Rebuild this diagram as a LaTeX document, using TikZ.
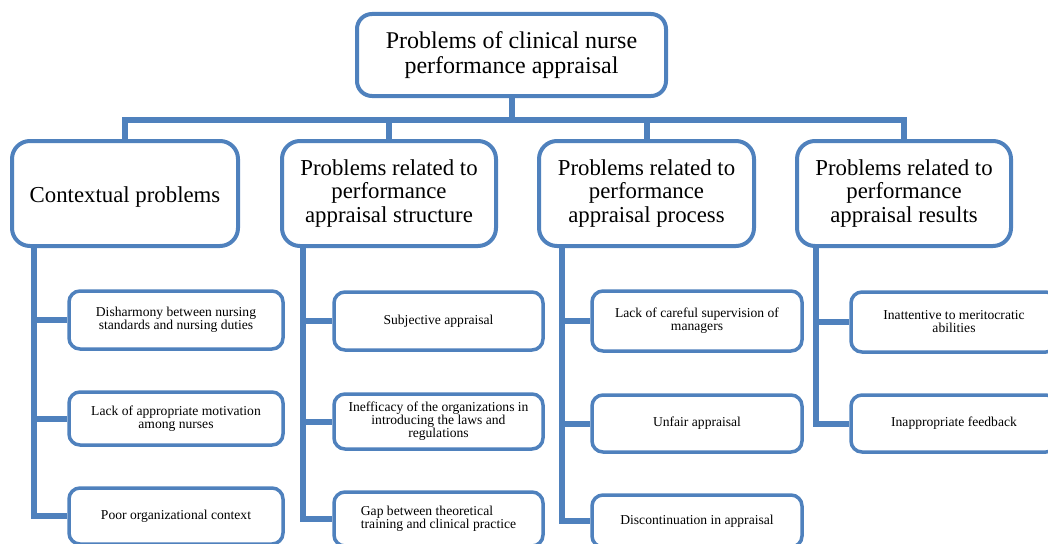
\documentclass[tikz,border=0pt]{standalone}
\usepackage{fontspec}
\setmainfont{Liberation Serif}
\usetikzlibrary{calc}
\definecolor{boxblue}{RGB}{79,129,189}
\begin{document}
\begin{tikzpicture}[x=1pt,y=-1pt,
  rootbox/.style={draw=boxblue,line width=4pt,fill=white,rounded corners=15pt,inner sep=0pt,
    align=center,font=\fontsize{24}{25}\selectfont,minimum width=309pt,minimum height=82pt},
  catbox/.style={draw=boxblue,line width=4pt,fill=white,rounded corners=18pt,inner sep=0pt,
    align=center,font=\fontsize{22.8}{23.5}\selectfont,minimum height=105pt},
  itembox/.style={draw=boxblue,line width=3.5pt,fill=white,rounded corners=11pt,inner sep=0pt,
    align=center,font=\fontsize{13.6}{13}\selectfont},
  conn/.style={draw=boxblue,line width=6pt}]
\useasboundingbox (0,0) rectangle (1048,543);
\clip (0,0) rectangle (1048,543);

% root
\node[rootbox] (root) at (511.5,55) {Problems of clinical nurse\\performance appraisal};

% categories
\node[catbox,minimum width=226pt,text height=23.6pt] (c1) at (125,193.5) {Contextual problems};
\node[catbox,minimum width=214pt] (c2) at (389,193.5) {Problems related to\\performance\\appraisal structure};
\node[catbox,minimum width=215pt] (c3) at (646.5,193.5) {Problems related to\\performance\\appraisal process};
\node[catbox,minimum width=214pt] (c4) at (904,193.5) {Problems related to\\performance\\appraisal results};

% items column 1
\node[itembox,minimum width=214pt,minimum height=58pt] (a1) at (176,320) {Disharmony between nursing\\standards and nursing duties};
\node[itembox,minimum width=214pt,minimum height=53pt] (a2) at (176,418.5) {Lack of appropriate motivation\\among nurses};
\node[itembox,minimum width=214pt,minimum height=56pt] (a3) at (176,516) {Poor organizational context};

% items column 2
\node[itembox,minimum width=209pt,minimum height=58pt] (b1) at (438.5,321) {Subjective appraisal};
\node[itembox,minimum width=209pt,minimum height=55pt] (b2) at (438.5,421.5) {Inefficacy of the organizations in\\introducing the laws and\\regulations};
\node[itembox,minimum width=209pt,minimum height=54pt,align=left] (b3) at (438.5,519) {Gap between theoretical\\training and clinical practice};

% items column 3
\node[itembox,minimum width=210pt,minimum height=60pt] (d1) at (697,321) {Lack of careful supervision of\\managers};
\node[itembox,minimum width=210pt,minimum height=57pt] (d2) at (697,423.5) {Unfair appraisal};
\node[itembox,minimum width=210pt,minimum height=52pt] (d3) at (697,521) {Discontinuation in appraisal};

% items column 4
\node[itembox,minimum width=206pt,minimum height=60pt] (e1) at (954,322) {Inattentive to meritocratic\\abilities};
\node[itembox,minimum width=206pt,minimum height=57pt] (e2) at (954,423.5) {Inappropriate feedback};

% top connectors
\coordinate (bar) at (0,120);
\draw[conn] (root.south) -- (root.south |- bar);
\draw[conn] (c1.north) -- (c1.north |- bar) -- (c4.north |- bar) -- (c4.north);
\draw[conn] (c2.north) -- (c2.north |- bar);
\draw[conn] (c3.north) -- (c3.north |- bar);

% spines
\coordinate (s1) at ($(c1.south west)+(24,0)$);
\coordinate (s2) at ($(c2.south west)+(23,0)$);
\coordinate (s3) at ($(c3.south west)+(25,0)$);
\coordinate (s4) at ($(c4.south west)+(21,0)$);

\draw[conn] (s1) |- (a3.west);
\draw[conn] (s1 |- a1.west) -- (a1.west);
\draw[conn] (s1 |- a2.west) -- (a2.west);

\draw[conn] (s2) |- (b3.west);
\draw[conn] (s2 |- b1.west) -- (b1.west);
\draw[conn] (s2 |- b2.west) -- (b2.west);

\draw[conn] (s3) |- (d3.west);
\draw[conn] (s3 |- d1.west) -- (d1.west);
\draw[conn] (s3 |- d2.west) -- (d2.west);

\draw[conn] (s4) |- (e2.west);
\draw[conn] (s4 |- e1.west) -- (e1.west);
\end{tikzpicture}
\end{document}
